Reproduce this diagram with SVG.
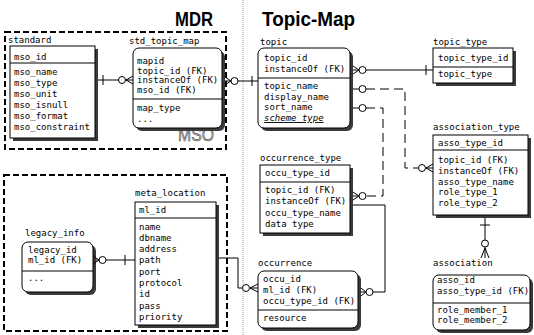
<svg xmlns="http://www.w3.org/2000/svg" width="534" height="335" viewBox="0 0 534 335">
<style>
.box{fill:#fff;stroke:#000;stroke-width:1}
.sh{fill:#3a3a3a}
.dv{stroke:#000;stroke-width:1}
.t{font-family:"DejaVu Sans Mono","Liberation Mono",monospace;font-size:9px;fill:#000}
.frame{fill:none;stroke:#000;stroke-width:2;stroke-dasharray:6 3}
.c{fill:none;stroke:#000;stroke-width:1}
.d{stroke-dasharray:9 5}
.o{fill:#fff;stroke:#000;stroke-width:1}
.title{font-family:"Liberation Sans",Arial,sans-serif;font-weight:bold;font-size:20px;fill:#000}
.grp{font-family:"Liberation Sans",Arial,sans-serif;font-size:19px;fill:#b0b0b0;stroke:#555;stroke-width:0.6}
</style>
<line x1="243" y1="0" x2="243" y2="335" stroke="#999" stroke-width="1" stroke-dasharray="1 1"/>
<text class="title" x="175" y="26" textLength="38" lengthAdjust="spacingAndGlyphs">MDR</text>
<text class="title" x="262" y="26" textLength="93" lengthAdjust="spacingAndGlyphs">Topic-Map</text>

<g id="group-mso">
<rect class="frame" x="5" y="32" width="221" height="117"/>
<text class="grp" x="178" y="141" textLength="36" lengthAdjust="spacingAndGlyphs">MSO</text>
</g>
<g id="group-ml">
<rect class="frame" x="4" y="175" width="223" height="156"/>
<text class="grp" x="192" y="326" textLength="24" lengthAdjust="spacingAndGlyphs">ML</text>
</g>

<g id="standard">
<rect class="sh" x="13" y="49" width="85" height="92"/>
<rect class="box" x="10" y="46" width="85" height="92"/>
<line class="dv" x1="10" y1="63" x2="95" y2="63"/>
<text class="t" x="8" y="43">standard</text>
<text class="t" x="14" y="60">mso_id</text>
<text class="t" x="14" y="75">mso_name</text>
<text class="t" x="14" y="86">mso_type</text>
<text class="t" x="14" y="97">mso_unit</text>
<text class="t" x="14" y="108">mso_isnull</text>
<text class="t" x="14" y="119">mso_format</text>
<text class="t" x="14" y="130">mso_constraint</text>
</g>

<g id="std_topic_map">
<rect class="sh" x="136" y="51" width="89" height="80" rx="6"/>
<rect class="box" x="133" y="48" width="89" height="80" rx="6"/>
<line class="dv" x1="133" y1="99" x2="222" y2="99"/>
<text class="t" x="129" y="44">std_topic_map</text>
<text class="t" x="137" y="64">mapid</text>
<text class="t" x="137" y="74">topic_id (FK)</text>
<text class="t" x="137" y="83">instanceOf (FK)</text>
<text class="t" x="137" y="93">mso_id (FK)</text>
<text class="t" x="137" y="111">map_type</text>
<text class="t" x="137" y="122">...</text>
</g>

<g id="topic">
<rect class="sh" x="261" y="51" width="92" height="80" rx="6"/>
<rect class="box" x="258" y="48" width="92" height="80" rx="6"/>
<line class="dv" x1="258" y1="78" x2="350" y2="78"/>
<text class="t" x="260" y="45">topic</text>
<text class="t" x="264" y="61">topic_id</text>
<text class="t" x="264" y="72">instanceOf (FK)</text>
<text class="t" x="264" y="89">topic_name</text>
<text class="t" x="264" y="100">display_name</text>
<text class="t" x="264" y="110">sort_name</text>
<text class="t" x="264" y="121" font-style="italic" text-decoration="underline">scheme_type</text>
</g>

<g id="topic_type">
<rect class="sh" x="436" y="51" width="80" height="35"/>
<rect class="box" x="433" y="48" width="80" height="35"/>
<line class="dv" x1="433" y1="67" x2="513" y2="67"/>
<text class="t" x="433" y="45">topic_type</text>
<text class="t" x="438" y="61">topic_type_id</text>
<text class="t" x="438" y="77">topic_type</text>
</g>

<g id="occurrence_type">
<rect class="sh" x="263" y="168" width="90" height="68"/>
<rect class="box" x="260" y="165" width="90" height="68"/>
<line class="dv" x1="260" y1="182" x2="350" y2="182"/>
<text class="t" x="260" y="161">occurrence_type</text>
<text class="t" x="265" y="176">occu_type_id</text>
<text class="t" x="265" y="193">topic_id (FK)</text>
<text class="t" x="265" y="204">instanceOf (FK)</text>
<text class="t" x="265" y="216">occu_type_name</text>
<text class="t" x="265" y="227">data type</text>
</g>

<g id="occurrence">
<rect class="sh" x="261" y="274" width="100" height="57" rx="6"/>
<rect class="box" x="258" y="271" width="100" height="57" rx="6"/>
<line class="dv" x1="258" y1="310" x2="358" y2="310"/>
<text class="t" x="258" y="266">occurrence</text>
<text class="t" x="263" y="282">occu_id</text>
<text class="t" x="263" y="293">ml_id (FK)</text>
<text class="t" x="263" y="304">occu_type_id (FK)</text>
<text class="t" x="263" y="321">resource</text>
</g>

<g id="meta_location">
<rect class="sh" x="138" y="205" width="81" height="123"/>
<rect class="box" x="135" y="202" width="81" height="123"/>
<line class="dv" x1="135" y1="218" x2="216" y2="218"/>
<text class="t" x="135" y="196">meta_location</text>
<text class="t" x="139" y="213">ml_id</text>
<text class="t" x="139" y="230">name</text>
<text class="t" x="139" y="241">dbname</text>
<text class="t" x="139" y="252">address</text>
<text class="t" x="139" y="263">path</text>
<text class="t" x="139" y="275">port</text>
<text class="t" x="139" y="286">protocol</text>
<text class="t" x="139" y="297">id</text>
<text class="t" x="139" y="309">pass</text>
<text class="t" x="139" y="320">priority</text>
</g>

<g id="legacy_info">
<rect class="sh" x="25" y="245" width="71" height="50" rx="6"/>
<rect class="box" x="22" y="242" width="71" height="50" rx="6"/>
<line class="dv" x1="22" y1="271" x2="93" y2="271"/>
<text class="t" x="25" y="236">legacy_info</text>
<text class="t" x="28" y="253">legacy_id</text>
<text class="t" x="28" y="263">ml_id (FK)</text>
<text class="t" x="28" y="281">...</text>
</g>

<g id="association_type">
<rect class="sh" x="436" y="138" width="95" height="80"/>
<rect class="box" x="433" y="135" width="95" height="80"/>
<line class="dv" x1="433" y1="150" x2="528" y2="150"/>
<text class="t" x="433" y="130">association_type</text>
<text class="t" x="438" y="146">asso_type_id</text>
<text class="t" x="438" y="163">topic_id (FK)</text>
<text class="t" x="438" y="174">instanceOf (FK)</text>
<text class="t" x="438" y="185">asso_type_name</text>
<text class="t" x="438" y="195">role_type_1</text>
<text class="t" x="438" y="206">role_type_2</text>
</g>

<g id="association">
<rect class="sh" x="436" y="278" width="97" height="55" rx="6"/>
<rect class="box" x="433" y="275" width="97" height="55" rx="6"/>
<line class="dv" x1="433" y1="303" x2="530" y2="303"/>
<text class="t" x="433" y="266">association</text>
<text class="t" x="437" y="283">asso_id</text>
<text class="t" x="437" y="294">asso_type_id (FK)</text>
<text class="t" x="437" y="313">role_member_1</text>
<text class="t" x="437" y="323">role_member_2</text>
</g>

<g id="connectors">
<!-- standard - std_topic_map -->
<path class="c" d="M98,80 H133 M103,75 V85 M126,80 L133,76 M126,80 L133,84"/>
<circle class="o" cx="122" cy="80" r="3.5"/>
<!-- std_topic_map - topic -->
<path class="c" d="M225,81 H258 M252,76 V86 M231,81 L225,77 M231,81 L225,85"/>
<circle class="o" cx="234.5" cy="81" r="3.5"/>
<!-- topic - topic_type -->
<path class="c" d="M353,70 H433 M426,65 V75 M359,70 L353,66 M359,70 L353,74"/>
<circle class="o" cx="362.5" cy="70" r="3.5"/>
<!-- topic - association_type (dashed) -->
<path class="c" d="M353,89 H359"/>
<path class="c d" d="M366,89 H405 V168 H418"/>
<circle class="o" cx="362.5" cy="89" r="3.5"/>
<path class="c" d="M425.5,168 H433 M426,168 L433,164 M426,168 L433,172"/>
<circle class="o" cx="422" cy="168" r="3.5"/>
<!-- topic - occurrence_type (dashed) -->
<path class="c" d="M353,108 H359"/>
<path class="c d" d="M366,108 H383 V196 H366"/>
<circle class="o" cx="362.5" cy="108" r="3.5"/>
<path class="c" d="M353,196 H359 M359,196 L353,192 M359,196 L353,200"/>
<circle class="o" cx="362.5" cy="196" r="3.5"/>
<!-- occurrence_type - occurrence -->
<path class="c" d="M353,205 H385 V292 H373"/>
<path class="c" d="M361,292 H366 M366,292 L361,288 M366,292 L361,296"/>
<circle class="o" cx="369.5" cy="292" r="3.5"/>
<!-- meta_location - occurrence -->
<path class="c" d="M219,258 H238 V288 H242.5"/>
<path class="c" d="M250,288 H258 M250,288 L258,284 M250,288 L258,292"/>
<circle class="o" cx="246" cy="288" r="3.5"/>
<!-- legacy_info - meta_location -->
<path class="c" d="M96,260 H135 M125,255 V265 M99,260 L93,256 M99,260 L93,264"/>
<circle class="o" cx="102.5" cy="260" r="3.5"/>
<!-- association_type - association -->
<path class="c" d="M485,218 V258 M480,225 H490 M485,248 L481,258 M485,248 L489,258"/>
<circle class="o" cx="485" cy="243.5" r="3.5"/>
</g>
</svg>
